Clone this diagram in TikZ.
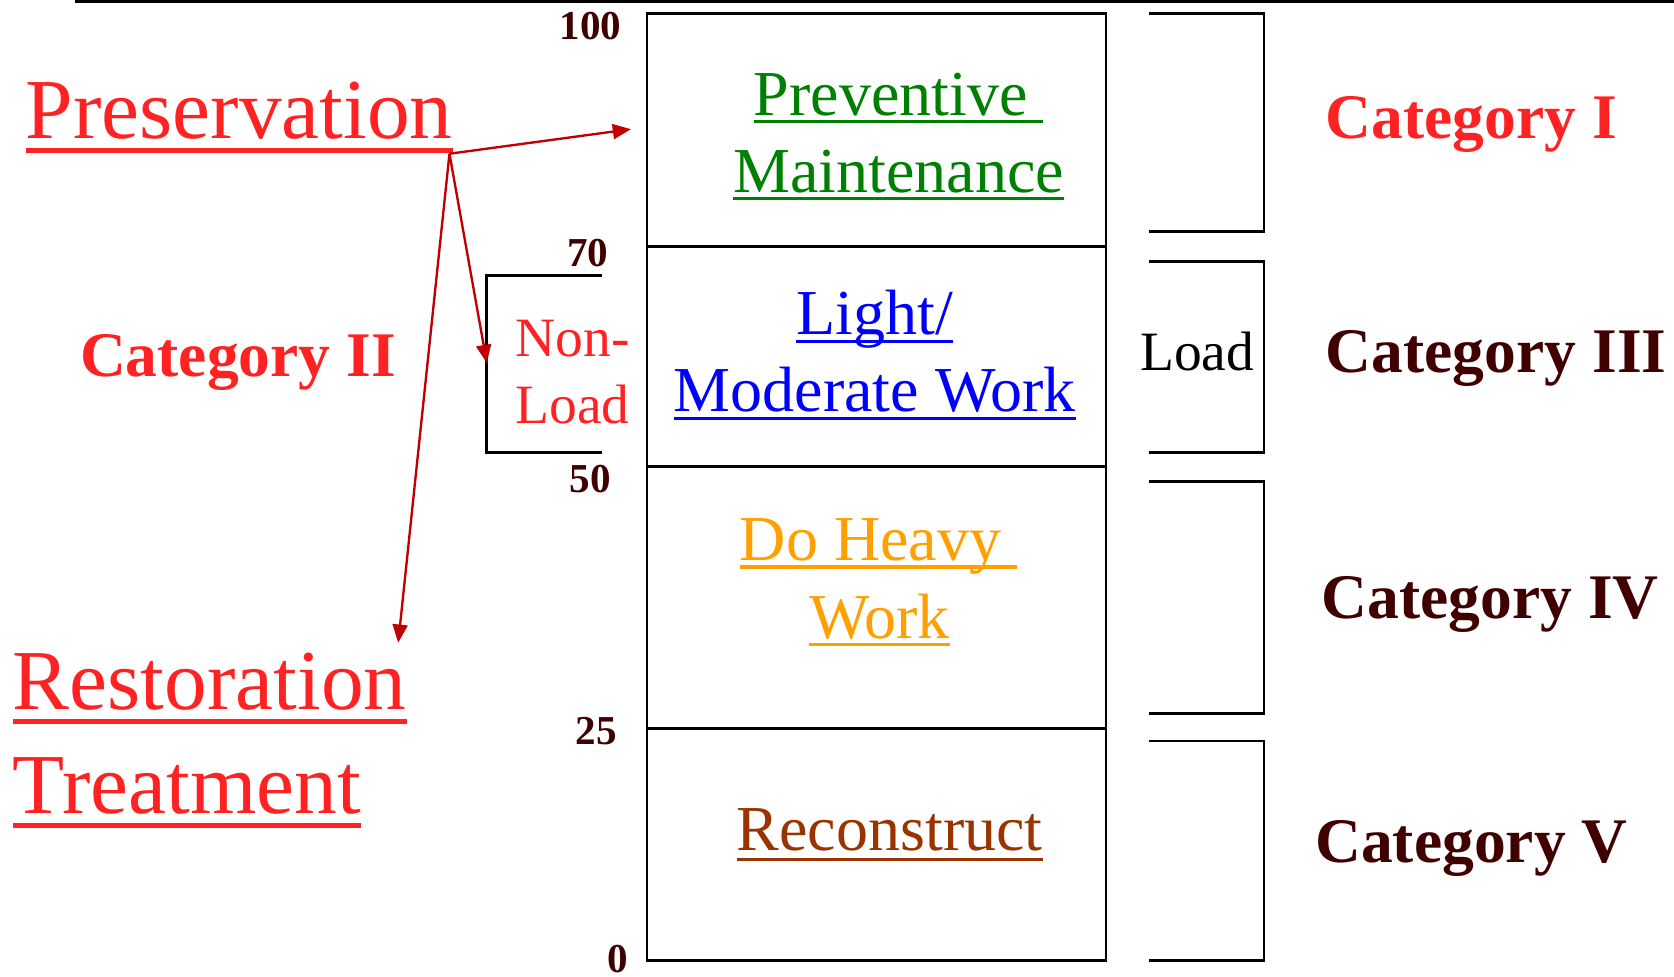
\documentclass[tikz,border=0pt]{standalone}
\usepackage{fontspec}
\setmainfont{Liberation Serif}
\usetikzlibrary{arrows.meta}
\definecolor{pred}{RGB}{255,34,34}
\definecolor{maroon}{RGB}{64,0,0}
\definecolor{arrowred}{RGB}{192,0,0}
\definecolor{pgreen}{RGB}{0,128,0}
\definecolor{pblue}{RGB}{0,0,255}
\definecolor{porange}{RGB}{255,160,0}
\definecolor{pbrown}{RGB}{153,51,0}
\newcommand{\ulnode}[4]{\draw[#2,line width=#4] ([yshift=-#3]#1.base west) -- ([yshift=-#3]#1.base east);}
\begin{document}
\begin{tikzpicture}[x=1pt,y=-1pt,
  txt/.style={inner sep=0pt,outer sep=0pt,anchor=base west},
  big/.style={txt,font=\fontsize{80}{90}\selectfont},
  mid/.style={txt,font=\fontsize{60}{70}\selectfont},
  cat/.style={txt,font=\fontsize{59.5}{70}\selectfont\bfseries},
  num/.style={inner sep=0pt,outer sep=0pt,anchor=base east,font=\fontsize{38.5}{40}\selectfont\bfseries,text=maroon},
  small/.style={txt,font=\fontsize{52}{60}\selectfont},
  frame/.style={line width=2.6pt},
  conn/.style={arrowred,line width=2.2pt,-{Triangle[length=17pt,width=14pt]}},
]
\useasboundingbox (0,0) rectangle (1568,915);
% top rule
\draw[line width=3pt] (70,1) -- (1568,1);
% main box
\draw[frame] (606,13) rectangle (1036,900);
\draw[frame] (606,231) -- (1036,231);
\draw[frame] (606,437) -- (1036,437);
\draw[frame] (606,682) -- (1036,682);
% scale numbers
\node[num] (n100) at (582,37) {100};
\node[num] (n70) at (570,250) {70};
\node[num] (n50) at (572,461) {50};
\node[num] (n25) at (578,697) {25};
\node[num] (n0) at (588,911) {0};
% box texts
\node[mid,text=pgreen] (prev) at (706,108) {Preventive\kern0.24em};
\node[mid,text=pgreen] (maint) at (687,180) {Maintenance};
\ulnode{prev}{pgreen}{6pt}{3pt}
\ulnode{maint}{pgreen}{6pt}{3pt}
\node[mid,text=pblue] (light) at (746,313) {Light/};
\node[mid,text=pblue] (moder) at (631,385) {Moderate Work};
\ulnode{light}{pblue}{7pt}{3pt}
\ulnode{moder}{pblue}{7pt}{3pt}
\node[mid,text=porange] (heavy) at (693,525) {Do Heavy\kern0.25em};
\node[mid,text=porange] (work) at (758,598) {Work};
\ulnode{heavy}{porange}{6pt}{3pt}
\ulnode{work}{porange}{6pt}{3pt}
\node[mid,text=pbrown] (recon) at (690,797) {Reconstruct};
\ulnode{recon}{pbrown}{8pt}{3pt}
% left texts
\node[big,text=pred] (pres) at (24,130) {Preservation};
\ulnode{pres}{pred}{11pt}{4.5pt}
\node[big,text=pred] (rest) at (12,665) {Restoration};
\node[big,text=pred] (treat) at (12,762) {Treatment};
\ulnode{rest}{pred}{11pt}{4.5pt}
\ulnode{treat}{pred}{11pt}{4.5pt}
\node[cat,text=pred] (cat2) at (75,353) {Category II};
% non-load bracket
\draw[frame] (564,258) -- (456,258) -- (456,424) -- (564,424);
\node[small,text=pred] (non) at (483,334) {Non-};
\node[small,text=pred] (nload) at (483,397) {Load};
% right brackets
\draw[frame] (1076,13) -- (1184,13) -- (1184,217) -- (1076,217);
\draw[frame] (1076,245) -- (1184,245) -- (1184,424) -- (1076,424);
\draw[frame] (1076,451) -- (1184,451) -- (1184,668) -- (1076,668);
\draw[frame] (1076,694) -- (1184,694) -- (1184,900) -- (1076,900);
\node[small] (load) at (1068,347) {Load};
\node[cat,text=pred] (cat1) at (1242,130) {Category I};
\node[cat,text=maroon] (cat3) at (1242,349) {Category III};
\node[cat,text=maroon] (cat4) at (1238,579) {Category IV};
\node[cat,text=maroon] (cat5) at (1232,808) {Category V};
% arrows
\coordinate (o) at (421,144);
\coordinate (t1) at (591,121);
\coordinate (t2) at (456,340);
\coordinate (t3) at (373,602);
\draw[conn] (o) -- (t1);
\draw[conn] (o) -- (t2);
\draw[conn] (o) -- (t3);
\end{tikzpicture}
\end{document}
